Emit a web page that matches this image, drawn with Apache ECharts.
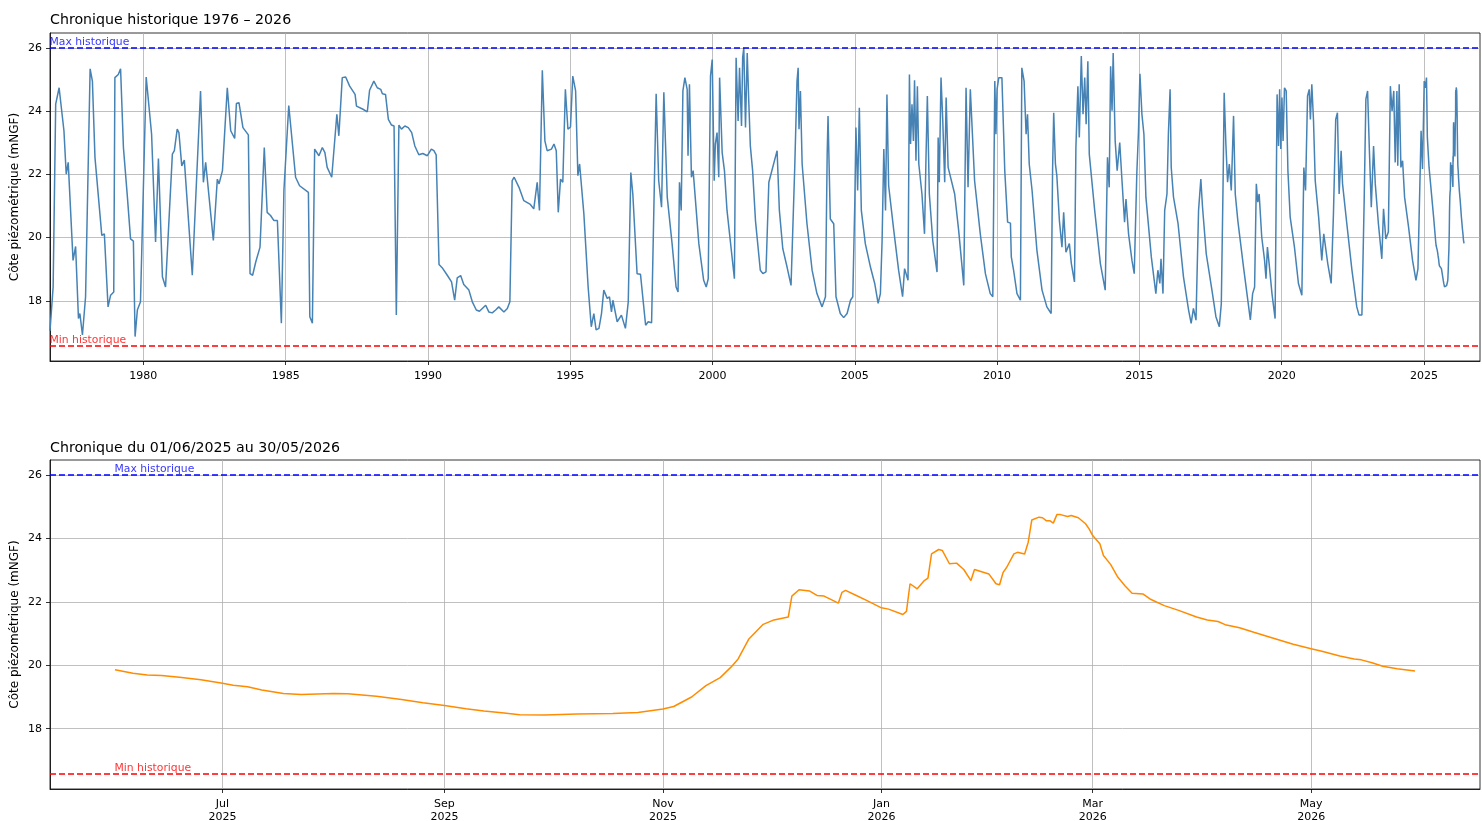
<!DOCTYPE html>
<html>
<head>
<meta charset="utf-8">
<script src="https://cdn.jsdelivr.net/npm/echarts@6.0.0/dist/echarts.min.js"></script>
<style>
html,body{margin:0;padding:0;background:#fff;}
#chart{width:1482px;height:821px;}
</style>
</head>
<body>
<div id="chart"></div>
<script>
// ---------- DATA ----------
const MAX_HIST = 26.0;
const MIN_HIST = 16.57;

// Historical series [decimal year, level mNGF]
const histPoints = [
[1976.72,17.05],[1976.83,18.44],[1976.92,24.22],[1977.04,24.74],[1977.21,23.38],[1977.29,22.01],[1977.36,22.38],[1977.53,19.28],[1977.62,19.72],[1977.72,17.44],[1977.77,17.60],[1977.86,16.92],[1977.97,18.13],[1978.13,25.34],[1978.21,24.95],[1978.30,22.54],[1978.36,22.54],[1978.54,20.07],[1978.63,20.12],[1978.76,17.81],[1978.85,18.18],[1978.96,18.28],[1979.00,25.06],[1979.12,25.16],[1979.20,25.34],[1979.30,22.85],[1979.44,21.28],[1979.55,19.96],[1979.65,19.89],[1979.71,16.87],[1979.79,17.71],[1979.90,17.97],[1980.10,25.08],[1980.29,23.27],[1980.43,19.86],[1980.53,22.50],[1980.67,18.76],[1980.78,18.44],[1981.02,22.64],[1981.09,22.75],[1981.19,23.43],[1981.25,23.32],[1981.35,22.27],[1981.44,22.45],[1981.72,18.81],[1982.01,24.64],[1982.11,21.75],[1982.19,22.38],[1982.46,19.91],[1982.52,19.86],[1982.60,21.85],[1982.66,21.70],[1982.78,22.12],[1982.95,24.74],[1983.07,23.38],[1983.21,23.14],[1983.27,24.24],[1983.36,24.27],[1983.50,23.48],[1983.69,23.25],[1983.75,18.86],[1983.84,18.81],[1983.95,19.23],[1984.10,19.70],[1984.25,22.85],[1984.35,20.80],[1984.47,20.70],[1984.59,20.54],[1984.71,20.54],[1984.85,17.29],[1984.94,21.49],[1985.11,24.18],
[1985.35,21.91],[1985.49,21.64],[1985.80,21.43],[1985.85,17.50],[1985.94,17.29],[1986.02,22.80],[1986.17,22.59],[1986.29,22.85],[1986.38,22.69],[1986.46,22.22],[1986.62,21.91],[1986.80,23.90],[1986.87,23.22],[1986.99,25.06],[1987.11,25.08],[1987.25,24.79],[1987.44,24.53],[1987.49,24.16],[1987.72,24.06],[1987.87,23.98],[1987.95,24.66],[1988.10,24.95],[1988.22,24.74],[1988.34,24.69],[1988.40,24.55],[1988.51,24.53],[1988.61,23.74],[1988.72,23.56],[1988.81,23.53],[1988.89,17.55],[1988.98,23.56],[1989.07,23.43],[1989.19,23.53],[1989.31,23.48],[1989.43,23.32],[1989.54,22.90],[1989.68,22.62],[1989.82,22.66],[1989.98,22.59],[1990.12,22.80],[1990.21,22.75],[1990.29,22.62],[1990.39,19.15],[1990.50,19.05],[1990.68,18.81],[1990.83,18.60],[1990.88,18.55],[1990.94,18.02],[1991.03,18.73],[1991.15,18.80],[1991.26,18.52],[1991.44,18.34],[1991.56,17.97],[1991.70,17.71],[1991.81,17.67],[1992.03,17.86],[1992.14,17.65],[1992.26,17.62],[1992.38,17.71],[1992.49,17.81],[1992.67,17.65],[1992.79,17.76],[1992.88,17.97],[1992.96,21.80],[1993.03,21.91],[1993.20,21.59],[1993.37,21.17],[1993.60,21.05],
[1993.72,20.91],[1993.84,21.75],[1993.92,20.86],[1994.02,25.29],[1994.11,23.06],[1994.19,22.75],[1994.34,22.80],[1994.43,22.96],[1994.51,22.75],[1994.58,20.80],[1994.66,21.85],[1994.74,21.75],[1994.83,24.69],[1994.92,23.43],[1995.01,23.50],[1995.09,25.11],[1995.19,24.64],[1995.27,21.96],[1995.33,22.33],[1995.48,20.75],[1995.63,18.44],[1995.68,18.44],[1995.74,17.18],[1995.83,17.60],[1995.91,17.08],[1996.01,17.13],[1996.10,17.60],[1996.18,18.34],[1996.30,18.08],[1996.38,18.13],[1996.45,17.65],[1996.50,18.02],[1996.65,17.34],[1996.80,17.55],[1996.94,17.13],[1997.04,17.97],[1997.13,22.06],[1997.20,21.38],[1997.35,18.86],[1997.47,18.84],[1997.65,17.23],[1997.74,17.34],[1997.86,17.31],[1998.02,24.55],[1998.11,21.80],[1998.21,20.96],[1998.29,24.60],[1998.41,21.28],[1998.58,19.81],[1998.72,18.44],[1998.79,18.28],[1998.84,21.75],[1998.90,20.86],[1998.96,24.64],[1999.03,25.06],[1999.11,24.69],[1999.14,22.59],[1999.19,24.85],[1999.26,21.91],[1999.32,22.12],[1999.52,19.81],[1999.69,18.65],[1999.78,18.44],[1999.85,18.70],[1999.93,25.11],[1999.99,25.63],[2000.06,21.80],[2000.10,22.96],[2000.16,23.32],[2000.22,21.91],[2000.25,25.06],[2000.34,22.69],[2000.42,22.12],[2000.51,20.86],[2000.77,18.70],[2000.83,25.69],[2000.90,23.69],[2000.95,25.37],[2001.02,23.53],[2001.06,25.69],[2001.10,26.00],[2001.16,23.48],[2001.22,25.84],[2001.27,24.43],[2001.33,22.90],[2001.41,22.12],[2001.51,20.54],[2001.68,18.97],[2001.77,18.86],[2001.88,18.92],
[2001.98,21.75],[2002.27,22.75],[2002.35,20.86],[2002.47,19.65],[2002.62,19.07],[2002.76,18.49],[2002.89,22.22],[2002.97,24.95],[2003.01,25.37],[2003.04,23.43],[2003.09,24.64],[2003.15,22.33],[2003.32,20.44],[2003.50,18.97],[2003.67,18.23],[2003.85,17.81],[2003.97,18.13],[2004.03,22.64],[2004.06,23.85],[2004.14,20.59],[2004.26,20.44],[2004.34,18.13],[2004.49,17.60],[2004.61,17.47],[2004.73,17.60],[2004.85,18.02],[2004.93,18.13],[2005.00,21.07],[2005.04,23.48],[2005.10,21.49],[2005.16,24.11],[2005.23,20.86],[2005.37,19.81],[2005.55,19.07],[2005.70,18.55],[2005.82,17.92],[2005.90,18.23],[2005.96,19.91],[2006.02,22.80],[2006.08,20.86],[2006.13,24.53],[2006.19,21.64],[2006.37,20.23],[2006.54,18.97],[2006.68,18.13],[2006.75,19.02],[2006.87,18.65],[2006.92,25.16],[2006.96,22.96],[2007.01,24.22],[2007.06,23.06],[2007.10,24.98],[2007.15,22.43],[2007.20,24.79],[2007.25,22.33],[2007.36,21.38],[2007.45,20.12],[2007.50,22.43],[2007.55,24.48],[2007.62,21.38],[2007.74,19.91],[2007.89,18.91],[2007.93,23.17],[2007.97,21.75],[2008.03,25.06],[2008.09,23.74],[2008.16,21.75],[2008.21,24.43],[2008.28,22.22],[2008.51,21.38],[2008.65,20.23],[2008.83,18.49],[2008.91,24.74],[2008.98,21.59],[2009.06,24.69],[2009.12,24.74],[2009.21,21.80],[2009.41,20.12],[2009.59,18.86],[2009.76,18.23],[2009.85,18.13],[2009.92,24.95],[2009.96,23.27],[2010.00,24.69],[2010.06,25.06],[2010.17,25.06],[2010.27,22.12],[2010.37,20.49],
[2010.47,20.46],[2010.50,19.39],[2010.58,18.97],[2010.70,18.23],[2010.82,18.02],[2010.87,25.37],[2010.95,24.95],[2011.02,23.27],[2011.07,23.90],[2011.13,22.33],[2011.23,21.49],[2011.40,19.60],[2011.58,18.34],[2011.75,17.81],[2011.90,17.60],[2011.95,22.12],[2011.99,23.95],[2012.05,22.33],[2012.10,21.96],[2012.19,20.54],[2012.28,19.70],[2012.34,20.80],[2012.42,19.54],[2012.54,19.81],[2012.61,19.18],[2012.72,18.60],[2012.77,22.85],[2012.84,24.79],[2012.89,23.17],[2012.96,25.74],[2013.02,23.90],[2013.08,25.06],[2013.13,23.59],[2013.19,25.58],[2013.24,22.64],[2013.43,20.86],[2013.63,19.18],[2013.80,18.34],[2013.88,22.54],[2013.94,21.59],[2013.99,25.42],[2014.04,24.01],[2014.08,25.84],[2014.15,23.06],[2014.22,22.12],[2014.31,23.01],[2014.39,21.80],[2014.48,20.49],[2014.53,21.22],[2014.62,20.12],[2014.74,19.28],[2014.82,18.86],[2014.91,22.01],[2014.97,23.38],[2015.02,25.18],[2015.09,23.90],[2015.16,23.27],[2015.23,21.28],[2015.42,19.39],[2015.58,18.23],[2015.65,18.97],[2015.72,18.55],[2015.76,19.33],[2015.83,18.23],[2015.89,20.86],[2015.97,21.38],[2016.02,23.27],[2016.08,24.69],[2016.12,22.22],[2016.20,21.28],[2016.36,20.44],[2016.55,18.76],[2016.73,17.71],[2016.82,17.29],[2016.90,17.76],[2016.99,17.39],[2017.08,20.86],[2017.16,21.85],[2017.22,20.96],[2017.35,19.49],[2017.55,18.34],[2017.69,17.50],[2017.81,17.18],[2017.88,17.92],[2017.94,21.59],[2017.98,24.58],[2018.04,22.96],[2018.10,21.75],[2018.16,22.33],[2018.23,21.49],[2018.31,23.85],[2018.37,21.38],[2018.46,20.54],[2018.66,19.07],[2018.90,17.40],
[2018.98,18.23],[2019.05,18.44],[2019.11,21.70],[2019.16,21.12],[2019.21,21.38],[2019.30,20.02],[2019.40,19.28],[2019.45,18.70],[2019.50,19.70],[2019.56,19.18],[2019.66,18.23],[2019.77,17.44],[2019.84,24.53],[2019.89,22.90],[2019.93,24.69],[2019.97,22.80],[2020.01,24.43],[2020.05,23.06],[2020.10,24.74],[2020.16,24.64],[2020.22,22.12],[2020.30,20.65],[2020.45,19.70],[2020.59,18.55],[2020.71,18.18],[2020.78,22.22],[2020.84,21.49],[2020.91,24.48],[2020.97,24.69],[2021.01,23.74],[2021.06,24.85],[2021.12,23.69],[2021.18,21.80],[2021.30,20.65],[2021.41,19.28],[2021.48,20.12],[2021.55,20.10],[2021.62,19.18],[2021.74,18.55],[2021.82,20.75],[2021.90,23.74],[2021.96,23.95],[2022.02,21.38],[2022.09,22.75],[2022.14,21.70],[2022.29,20.44],[2022.47,18.97],[2022.64,17.81],[2022.72,17.55],[2022.82,17.55],[2022.90,21.17],[2022.96,24.38],[2023.02,24.64],[2023.08,22.85],[2023.15,20.96],[2023.23,22.90],[2023.29,21.70],[2023.40,20.44],[2023.52,19.33],[2023.58,20.91],[2023.66,19.96],[2023.75,20.18],[2023.82,24.79],[2023.88,24.01],[2023.94,24.64],[2023.99,22.38],[2024.05,24.64],[2024.08,22.27],[2024.13,24.85],[2024.19,22.22],[2024.25,22.43],[2024.32,21.28],[2024.46,20.33],[2024.60,19.28],[2024.72,18.65],[2024.79,19.02],[2024.85,18.97],[2024.90,23.38],[2024.95,22.17],[2025.01,24.95],[2025.05,24.74],[2025.09,25.06],[2025.12,23.17],[2025.18,22.22],[2025.34,20.65]
];

// Last 12 months (01/06/2025 - 30/05/2026)
const recentDates = [
'2025-06-01','2025-06-06','2025-06-10','2025-06-14','2025-06-19','2025-06-25','2025-07-01','2025-07-04','2025-07-08','2025-07-12','2025-07-18','2025-07-23','2025-08-01','2025-08-05','2025-08-13','2025-08-20','2025-08-26','2025-09-01','2025-09-07','2025-09-12','2025-09-17','2025-09-22','2025-09-29','2025-10-08','2025-10-18','2025-10-25','2025-11-01','2025-11-04','2025-11-09','2025-11-13','2025-11-17','2025-11-20','2025-11-22','2025-11-25','2025-11-29','2025-12-02','2025-12-06','2025-12-07','2025-12-09','2025-12-12','2025-12-14','2025-12-16','2025-12-20','2025-12-21','2025-12-22','2025-12-25','2025-12-28','2026-01-01','2026-01-03','2026-01-07','2026-01-08','2026-01-09','2026-01-11','2026-01-13','2026-01-14','2026-01-15','2026-01-17','2026-01-18','2026-01-20','2026-01-22','2026-01-24','2026-01-26','2026-01-27','2026-01-31','2026-02-02','2026-02-03','2026-02-04','2026-02-05','2026-02-07','2026-02-08','2026-02-10','2026-02-11','2026-02-12','2026-02-14','2026-02-15','2026-02-16','2026-02-17','2026-02-18','2026-02-19','2026-02-20','2026-02-22','2026-02-23','2026-02-25','2026-02-27','2026-02-28','2026-03-01','2026-03-03','2026-03-04','2026-03-06','2026-03-08','2026-03-10','2026-03-12','2026-03-15','2026-03-17','2026-03-21','2026-03-25','2026-03-30','2026-04-02','2026-04-05','2026-04-07','2026-04-11','2026-04-15','2026-04-20','2026-04-26','2026-05-01','2026-05-04','2026-05-09','2026-05-13','2026-05-15','2026-05-18','2026-05-21','2026-05-25','2026-05-30'
];
const recentLevels = [
19.86,19.75,19.69,19.68,19.62,19.54,19.43,19.37,19.32,19.22,19.11,19.08,19.11,19.10,19.02,18.92,18.82,18.73,18.63,18.56,18.50,18.44,18.43,18.46,18.48,18.51,18.62,18.70,19.00,19.36,19.61,19.94,20.20,20.83,21.29,21.43,21.52,22.18,22.38,22.34,22.20,22.18,21.96,22.30,22.36,22.20,22.04,21.81,21.77,21.60,21.70,22.57,22.41,22.67,22.75,23.51,23.65,23.62,23.20,23.22,23.02,22.67,23.02,22.88,22.57,22.54,22.93,23.09,23.51,23.56,23.51,23.88,24.58,24.67,24.65,24.56,24.56,24.48,24.75,24.75,24.69,24.72,24.65,24.46,24.30,24.09,23.83,23.46,23.18,22.78,22.51,22.27,22.25,22.09,21.88,21.73,21.52,21.43,21.38,21.28,21.18,21.04,20.87,20.66,20.52,20.44,20.29,20.20,20.17,20.08,19.97,19.89,19.82
];

const yTicks = [18, 20, 22, 24, 26];
const yearTicks = [1980, 1985, 1990, 1995, 2000, 2005, 2010, 2015, 2020, 2025];
const monthTickDates = ['2025-07-01','2025-09-01','2025-11-01','2026-01-01','2026-03-01','2026-05-01'];
const monthNames = ['Jan','Feb','Mar','Apr','May','Jun','Jul','Aug','Sep','Oct','Nov','Dec'];

const titleTop = 'Chronique historique 1976 \u2013 2026';
const titleBottom = 'Chronique du 01/06/2025 au 30/05/2026';
const yName = 'C\u00f4te pi\u00e9zom\u00e9trique (mNGF)';

// ---------- HELPERS ----------
function ts(s) { return Date.parse(s + 'T00:00:00Z'); }
function decYear(s) {
  const t = ts(s); const y = new Date(t).getUTCFullYear();
  const a = Date.UTC(y, 0, 1), b = Date.UTC(y + 1, 0, 1);
  return y + (t - a) / (b - a);
}
const recentTs = recentDates.map(ts);
const recentSeries = recentTs.map((t, i) => [t, recentLevels[i]]);
const topSeries = histPoints.concat(recentDates.map((d, i) => [decYear(d), recentLevels[i]]));

const yPad = 0.05 * (MAX_HIST - MIN_HIST);
const yMin = MIN_HIST - yPad, yMax = MAX_HIST + yPad;

const topXMin = histPoints[0][0];
const topXMax = 2026.97;
const bStart = recentTs[0], bEnd = recentTs[recentTs.length - 1];
const bPad = 0.05 * (bEnd - bStart);
const monthTicks = monthTickDates.map(ts);

const FONT = 'DejaVu Sans';
const gridLine = { show: true, lineStyle: { color: '#b0b0b0', width: 0.8 } };
const tickStyle = (vals) => ({ show: true, inside: false, length: 4, lineStyle: { color: '#000', width: 0.8 }, customValues: vals });
const axisLineStyle = { show: true, lineStyle: { color: '#000', width: 0.8 } };

function yAxisDef(gridIndex) {
  return {
    type: 'value', gridIndex, min: yMin, max: yMax,
    name: yName, nameLocation: 'middle', nameGap: 29, nameMoveOverlap: false,
    nameTextStyle: { fontFamily: FONT, fontSize: 12, color: '#000' },
    axisLine: axisLineStyle,
    axisTick: tickStyle(yTicks),
    axisLabel: { customValues: yTicks, fontFamily: FONT, fontSize: 11, color: '#000', margin: 8, formatter: v => String(v) },
    splitLine: gridLine
  };
}

function refLines() {
  return {
    silent: true, symbol: ['none', 'none'], animation: false,
    label: { show: false },
    data: [
      { yAxis: MAX_HIST, lineStyle: { color: '#0000ff', type: [6, 3], width: 1.5 } },
      { yAxis: MIN_HIST, lineStyle: { color: '#ff0000', type: [6, 3], width: 1.5 } }
    ]
  };
}

function refLabels(xIdx, x0) {
  const lbl = (txt, col) => ({ show: true, formatter: txt, color: col, fontFamily: FONT, fontSize: 10.8, position: [0, 0], align: 'left', verticalAlign: 'bottom', offset: [0, 0] });
  return {
    type: 'scatter', xAxisIndex: xIdx, yAxisIndex: xIdx, symbolSize: 1, silent: true,
    itemStyle: { color: 'rgba(0,0,0,0)' }, z: 5,
    data: [
      { value: [x0, MAX_HIST], label: lbl('Max historique', '#0000ff') },
      { value: [x0, MIN_HIST], label: lbl('Min historique', '#ff0000') }
    ]
  };
}

const gridBase = { left: 50, width: 1430, show: true, borderColor: '#000', borderWidth: 0.8, backgroundColor: 'transparent', containLabel: false, outerBoundsMode: 'none' };

const chart = echarts.init(document.getElementById('chart'), null, { renderer: 'canvas' });
chart.setOption({
  animation: false,
  backgroundColor: '#fff',
  title: [
    { text: titleTop, left: 50, top: 13, padding: 0, textStyle: { fontFamily: FONT, fontSize: 14.2, fontWeight: 'normal', color: '#000' } },
    { text: titleBottom, left: 50, top: 441, padding: 0, textStyle: { fontFamily: FONT, fontSize: 14.2, fontWeight: 'normal', color: '#000' } }
  ],
  grid: [
    Object.assign({}, gridBase, { top: 33, height: 328 }),
    Object.assign({}, gridBase, { top: 460, height: 329 })
  ],
  xAxis: [
    {
      type: 'value', gridIndex: 0, min: topXMin, max: topXMax,
      axisLine: axisLineStyle, axisTick: tickStyle(yearTicks),
      axisLabel: { customValues: yearTicks, fontFamily: FONT, fontSize: 11, color: '#000', margin: 10, formatter: v => String(Math.round(v)) },
      splitLine: gridLine
    },
    {
      type: 'value', gridIndex: 1, min: bStart - bPad, max: bEnd + bPad,
      axisLine: axisLineStyle, axisTick: tickStyle(monthTicks),
      axisLabel: { customValues: monthTicks, fontFamily: FONT, fontSize: 11, color: '#000', margin: 9, lineHeight: 13,
        formatter: v => { const d = new Date(v); return monthNames[d.getUTCMonth()] + '\n' + d.getUTCFullYear(); } },
      splitLine: gridLine
    }
  ],
  yAxis: [yAxisDef(0), yAxisDef(1)],
  series: [
    {
      type: 'line', xAxisIndex: 0, yAxisIndex: 0, data: topSeries, showSymbol: false, symbol: 'none',
      lineStyle: { color: '#4682b4', width: 1.5 }, z: 3, markLine: refLines()
    },
    refLabels(0, topXMin),
    {
      type: 'line', xAxisIndex: 1, yAxisIndex: 1, data: recentSeries, showSymbol: false, symbol: 'none',
      lineStyle: { color: '#ff8c00', width: 1.5 }, z: 3, markLine: refLines()
    },
    refLabels(1, bStart)
  ]
});
</script>
</body>
</html>
